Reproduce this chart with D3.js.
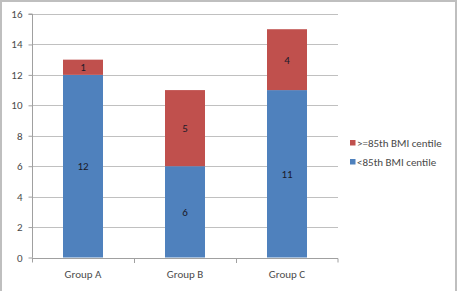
<!DOCTYPE html>
<html><head><meta charset="utf-8">
<script src="https://cdn.jsdelivr.net/npm/d3@7"></script>
<style>body{margin:0;background:#fff}svg{display:block}text{font-family:Calibri,Carlito,"Liberation Sans","DejaVu Sans",sans-serif}</style>
</head><body>
<script>
const categories = ["Group A", "Group B", "Group C"];
const below85 = [12, 6, 11];
const above85 = [1, 5, 4];
const seriesNames = ["<85th BMI centile", ">=85th BMI centile"];
const yTicks = [0, 2, 4, 6, 8, 10, 12, 14, 16];

const W = 460, H = 291;
const svg = d3.select("body").append("svg").attr("width", W).attr("height", H);
svg.append("rect").attr("x", 1).attr("y", 1).attr("width", 455).attr("height", 296)
  .attr("fill", "#fff").attr("stroke", "#bfbfbf").attr("stroke-width", 2);

const x0 = 32, x1 = 338, yTop = 14, yBot = 257.5;
const x = d3.scaleBand().domain(categories).range([x0, x1]).paddingInner(0).paddingOuter(0);
const y = d3.scaleLinear().domain([0, 16]).range([yBot, yTop]);
const bw = 40;

// gridlines
svg.append("g").selectAll("line").data(yTicks.filter(t => t > 0)).join("line")
  .attr("x1", x0).attr("x2", x1).attr("y1", d => Math.round(y(d)) + 0.5).attr("y2", d => Math.round(y(d)) + 0.5)
  .attr("stroke", "#c0c0c0").attr("stroke-width", 1);

// y axis
const ya = svg.append("g").attr("transform", `translate(${x0 + 0.5},0)`)
  .call(d3.axisLeft(y).tickValues(yTicks).tickSize(4).tickPadding(6));
ya.select(".domain").attr("stroke", "#a0a0a0").attr("d", `M-4,${yTop}H0V${yBot}`);
ya.selectAll(".tick line").attr("stroke", "#a0a0a0");
ya.selectAll(".tick text").attr("fill", "#4a4a4a").attr("font-size", 11);

// stacked data
const stackData = categories.map((c, i) => ({cat: c, below: below85[i], above: above85[i]}));
const stack = d3.stack().keys(["below", "above"])(stackData);
const colors = {below: "#4F81BD", above: "#C0504D"};

stack.forEach(layer => {
  svg.append("g").selectAll("rect").data(layer).join("rect")
    .attr("x", d => x(d.data.cat) + x.bandwidth() / 2 - bw / 2)
    .attr("width", bw)
    .attr("y", d => y(d[1]))
    .attr("height", d => y(d[0]) - y(d[1]))
    .attr("fill", colors[layer.key]);
  svg.append("g").selectAll("text").data(layer).join("text")
    .attr("x", d => x(d.data.cat) + x.bandwidth() / 2)
    .attr("y", d => y((d[0] + d[1]) / 2) + 4)
    .attr("text-anchor", "middle").attr("font-size", 11).attr("fill", "#1a1a2a")
    .text(d => d[1] - d[0]);
});

// x axis
const xa = svg.append("g").attr("transform", `translate(0,${Math.round(yBot) + 0.5})`)
  .call(d3.axisBottom(x).tickSize(0).tickPadding(12));
xa.select(".domain").attr("stroke", "#a0a0a0").attr("d", `M${x0},0H${x1}V4`);
xa.selectAll(".tick text").attr("fill", "#4a4a4a").attr("font-size", 11);
svg.append("g").selectAll("line").data(categories.slice(1)).join("line")
  .attr("x1", d => Math.round(x(d)) + 0.5).attr("x2", d => Math.round(x(d)) + 0.5)
  .attr("y1", Math.round(yBot)).attr("y2", Math.round(yBot) + 5)
  .attr("stroke", "#a0a0a0");
svg.append("line").attr("x1", x0 + 0.5).attr("x2", x0 + 0.5).attr("y1", yBot).attr("y2", yBot + 5).attr("stroke", "#a0a0a0");

// legend
const legendItems = [{name: seriesNames[1], color: colors.above}, {name: seriesNames[0], color: colors.below}];
const lg = svg.append("g").selectAll("g").data(legendItems).join("g")
  .attr("transform", (d, i) => `translate(350,${140 + i * 19})`);
lg.append("rect").attr("x", 0).attr("y", 0).attr("width", 5.5).attr("height", 5.5).attr("fill", d => d.color);
lg.append("text").attr("x", 7).attr("y", 6.5).attr("font-size", 11).attr("fill", "#4a4a4a").text(d => d.name);
</script>
</body></html>
